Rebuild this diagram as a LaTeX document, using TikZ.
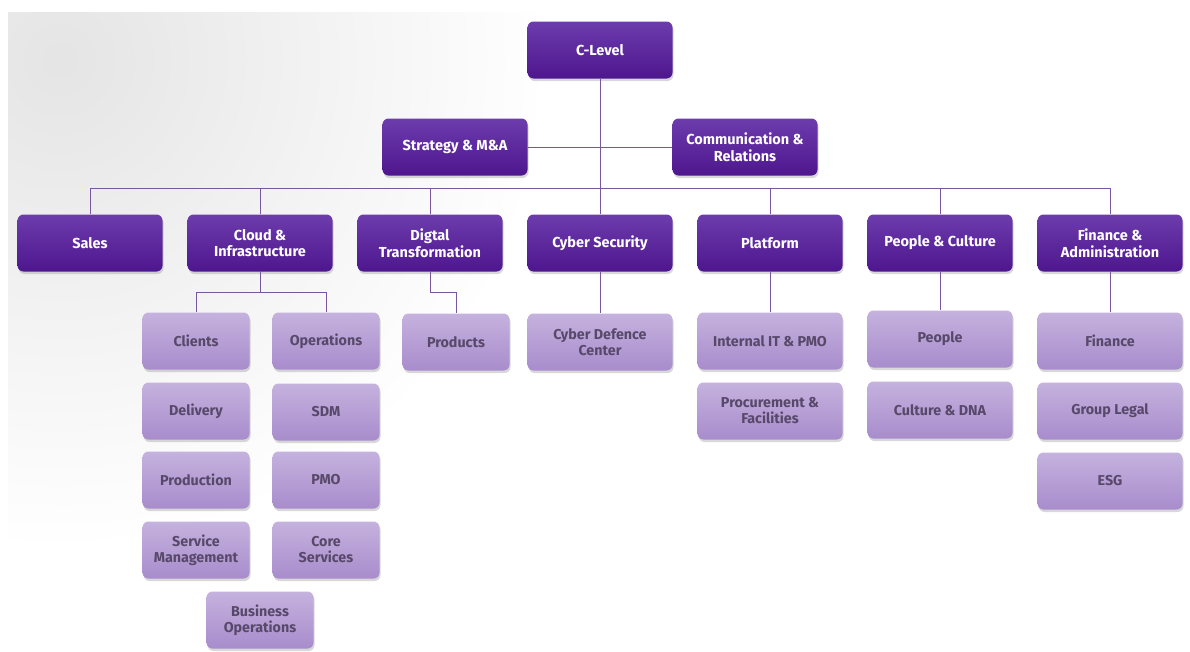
\documentclass[tikz,border=0pt]{standalone}
\usepackage{fontspec}
\setmainfont{Fira Sans}
\usetikzlibrary{shadows,fadings}
\definecolor{darktop}{RGB}{108,60,172}
\definecolor{darkbot}{RGB}{78,22,142}
\definecolor{lighttop}{RGB}{197,178,222}
\definecolor{lightbot}{RGB}{168,140,204}
\definecolor{lighttext}{RGB}{88,72,106}
\definecolor{linecol}{RGB}{120,86,160}
\tikzfading[name=cornerfade, inner color=transparent!0, outer color=transparent!100]
\tikzset{
  dark/.style={rounded corners=6pt, minimum width=145pt, minimum height=57pt,
    top color=darktop, bottom color=darkbot, text=white, align=center,
    font=\fontsize{14.5}{16.5}\selectfont\bfseries, inner sep=2pt,
    drop shadow={opacity=0.3, shadow xshift=1pt, shadow yshift=-2.5pt}},
  light/.style={rounded corners=6pt, minimum width=107pt, minimum height=57pt,
    top color=lighttop, bottom color=lightbot, text=lighttext, align=center,
    font=\fontsize{14.3}{16}\selectfont\bfseries, inner sep=2pt,
    drop shadow={opacity=0.3, shadow xshift=1pt, shadow yshift=-2.5pt}},
  lightwide/.style={light, minimum width=145pt},
  conn/.style={draw=linecol, line width=0.9pt}
}
\begin{document}
\begin{tikzpicture}[x=1pt,y=-1pt]
\useasboundingbox (0,0) rectangle (1190,651);
\fill[white] (0,0) rectangle (1190,651);
\begin{scope}
\clip (8,12) rectangle (1190,651);
\fill[black!10, path fading=cornerfade] (60,60) circle (480);
\end{scope}
\coordinate (busL) at (90,188);
\coordinate (busR) at (1110,188);
% nodes
\node[dark] (clevel) at (600,50) {C-Level};
\node[dark] (strat) at (455,147) {Strategy \& M\&A};
\node[dark] (comm) at (745,147) {Communication \&\\Relations};
\node[dark] (sales) at (90,243) {Sales};
\node[dark] (cloud) at (260,243) {Cloud \&\\Infrastructure};
\node[dark] (digital) at (430,243) {Digtal\\Transformation};
\node[dark] (cyber) at (600,243) {Cyber Security};
\node[dark] (platform) at (770,243) {Platform};
\node[dark] (people) at (940,243) {People \& Culture};
\node[dark] (finance) at (1110,243) {Finance \&\\Administration};
% sub nodes
\node[light] (clients) at (196,341) {Clients};
\node[light] (operations) at (326,341) {Operations};
\node[light] (delivery) at (196,411) {Delivery};
\node[light] (sdm) at (326,412) {SDM};
\node[light] (production) at (196,480) {Production};
\node[light] (pmo) at (326,480) {PMO};
\node[light] (servmgmt) at (196,550) {Service\\Management};
\node[light] (core) at (326,550) {Core\\Services};
\node[light] (busops) at (260,620) {Business\\Operations};
\node[light] (products) at (456,342) {Products};
\node[lightwide] (cdc) at (600,342) {Cyber Defence\\Center};
\node[lightwide] (intit) at (770,341) {Internal IT \& PMO};
\node[lightwide] (procure) at (770,411) {Procurement \&\\Facilities};
\node[lightwide] (peop) at (940,339) {People};
\node[lightwide] (culture) at (940,410) {Culture \& DNA};
\node[lightwide] (fin) at (1110,341) {Finance};
\node[lightwide] (legal) at (1110,411) {Group Legal};
\node[lightwide] (esg) at (1110,481) {ESG};
% connectors
\draw[conn] (clevel.south) -- (cyber.north);
\draw[conn] (strat.east) -- (comm.west);
\draw[conn] (busL) -- (busR);
\draw[conn] (busL) -- (sales.north);
\draw[conn] (cloud.north |- busL) -- (cloud.north);
\draw[conn] (digital.north |- busL) -- (digital.north);
\draw[conn] (platform.north |- busL) -- (platform.north);
\draw[conn] (people.north |- busL) -- (people.north);
\draw[conn] (busR) -- (finance.north);
\draw[conn] (cloud.south) -- ++(0,21) -| (clients.north);
\draw[conn] (cloud.south) -- ++(0,21) -| (operations.north);
\draw[conn] (digital.south) -- ++(0,21) -| (products.north);
\draw[conn] (cyber.south) -- (cdc.north);
\draw[conn] (platform.south) -- (intit.north);
\draw[conn] (people.south) -- (peop.north);
\draw[conn] (finance.south) -- (fin.north);
\end{tikzpicture}
\end{document}
